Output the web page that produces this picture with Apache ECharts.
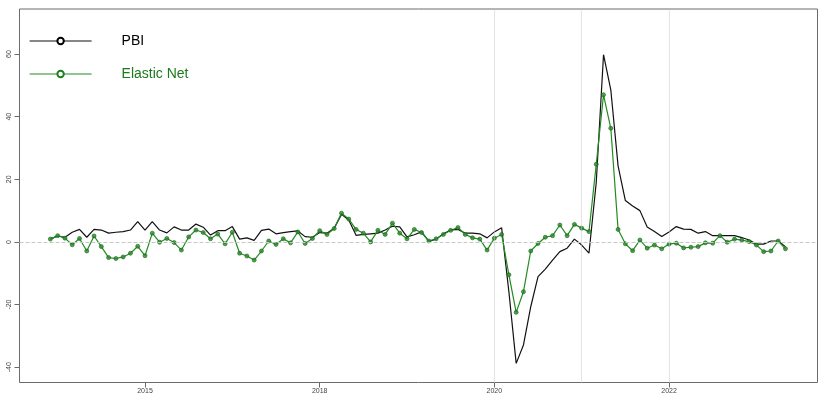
<!DOCTYPE html>
<html>
<head>
<meta charset="utf-8">
<script src="https://cdn.jsdelivr.net/npm/echarts@6/dist/echarts.min.js"></script>
<style>
  html, body { margin: 0; padding: 0; background: #fff; }
  #chart { width: 830px; height: 402px; }
</style>
</head>
<body>
<div id="chart"></div>
<script>
// monthly series, first month Dec 2014
var startYear = 2014;
var startMonth = 12;

var pbi = [
  0.9, 1.9, 1.5, 3.1, 4.0, 1.5, 4.0, 3.8, 2.8, 3.1,
  3.3, 3.8, 6.5, 3.8, 6.5, 3.8, 2.9, 4.8, 3.8, 3.8,
  5.7, 4.7, 2.2, 3.6, 3.6, 4.9, 0.9, 1.3, 0.5, 3.7,
  4.1, 2.6, 3.0, 3.3, 3.5, 1.7, 1.5, 3.0, 2.8, 4.4,
  8.8, 7.0, 2.1, 2.4, 2.6, 2.8, 3.8, 5.0, 4.8, 1.6,
  2.3, 3.2, 0.2, 0.9, 2.6, 3.8, 4.0, 2.8, 2.8, 2.6,
  1.3, 3.2, 4.5, -16, -38.8, -32.9, -20.7, -11.1, -8.7, -5.8,
  -3.1, -2.0, 0.9, -1.0, -3.6, 19, 59.8, 48.6, 24.3, 13.2,
  11.5, 10.0, 4.8, 3.3, 1.7, 3.2, 4.9, 4.1, 4.0, 2.8,
  3.3, 2.0, 2.0, 2.0, 2.0, 1.4, 0.6, -0.7, -0.7, 0.3,
  0.3, -1.5
];

var elasticNet = [
  0.9, 2.0, 1.2, -0.9, 1.1, -2.9, 1.9, -1.5, -5.0, -5.3,
  -4.8, -3.6, -1.4, -4.4, 2.8, -0.1, 1.1, -0.2, -2.6, 1.6,
  3.8, 3.0, 1.0, 2.5, -0.6, 3.1, -3.6, -4.5, -5.8, -2.9,
  0.3, -0.8, 1.0, -0.3, 3.2, -0.5, 1.1, 3.6, 2.4, 4.3,
  9.2, 7.3, 4.0, 2.8, 0.0, 3.7, 2.4, 6.0, 2.8, 1.0,
  4.0, 3.0, 0.3, 1.0, 2.4, 3.7, 4.6, 2.4, 1.3, 0.9,
  -2.6, 1.2, 2.4, -10.5, -22.5, -15.9, -2.9, -0.5, 1.5, 2.0,
  5.4, 2.0, 5.6, 4.4, 3.3, 24.8, 47.0, 36.3, 4.0, -0.6,
  -2.8, 0.6, -2.0, -1.0, -2.2, -0.7, -0.4, -1.9, -1.7, -1.5,
  -0.3, -0.4, 2.0, -0.1, 0.9, 0.6, 0.1, -1.0, -3.1, -2.9,
  0.3, -2.2
];

var xTickValues = [2016, 2018, 2020, 2022];
var xTickLabels = ['2015', '2018', '2020', '2022'];
var yTickValues = [-40, -20, 0, 20, 40, 60];
var vLines = [2020, 2021, 2022];

// time in fractional years, like an R ts
function timeOf(i) {
  return startYear + (startMonth - 1 + i) / 12;
}
var pbiData = pbi.map(function (v, i) { return [timeOf(i), v]; });
var enetData = elasticNet.map(function (v, i) { return [timeOf(i), v]; });

var chart = echarts.init(document.getElementById('chart'), null, { renderer: 'canvas' });

var option = {
  animation: false,
  backgroundColor: '#fff',
  grid: {
    left: 19.5, right: 12.5, top: 9, bottom: 19.5,
    show: true, borderColor: '#6b6b6b', borderWidth: 1
  },
  legend: {
    orient: 'vertical',
    left: 24, top: 29,
    itemWidth: 62, itemHeight: 8, itemGap: 19,
    lineStyle: { width: 1.2 },
    itemStyle: { borderWidth: 1 },
    textStyle: { fontSize: 14, color: '#000', fontFamily: 'Liberation Sans', padding: [0, 0, 0, 25] },
    data: [
      { name: 'PBI' },
      { name: 'Elastic Net', textStyle: { color: '#1b7a1b' } }
    ]
  },
  xAxis: {
    type: 'value',
    min: 2014.563, max: 2023.70,
    axisLine: { show: false, onZero: false },
    splitLine: { show: false },
    axisTick: { show: true, customValues: xTickValues, length: 5, lineStyle: { color: '#6b6b6b' } },
    axisLabel: {
      customValues: xTickValues,
      fontSize: 7, color: '#444', margin: 5, fontFamily: 'Liberation Sans',
      formatter: function (v) {
        var k = xTickValues.indexOf(v);
        return k >= 0 ? xTickLabels[k] : '';
      }
    }
  },
  yAxis: {
    type: 'value',
    min: -44.9, max: 74.4,
    axisLine: { show: false, onZero: false },
    splitLine: { show: false },
    axisTick: { show: true, customValues: yTickValues, length: 5, lineStyle: { color: '#6b6b6b' } },
    axisLabel: {
      customValues: yTickValues,
      rotate: 90, fontSize: 7, color: '#444', margin: 7, fontFamily: 'Liberation Sans'
    }
  },
  series: [
    {
      name: 'PBI',
      type: 'line',
      data: pbiData,
      symbol: 'emptyCircle',
      showSymbol: false,
      color: '#000',
      lineStyle: { color: '#111', width: 1.2 },
      markLine: {
        silent: true,
        symbol: 'none',
        label: { show: false },
        lineStyle: { color: '#c8c8c8', type: 'dotted', width: 1 },
        data: vLines.map(function (x) { return { xAxis: x }; }).concat([
          { yAxis: 0, lineStyle: { color: '#c8c8c8', type: 'dashed', width: 1 } }
        ])
      }
    },
    {
      name: 'Elastic Net',
      type: 'line',
      data: enetData,
      symbol: 'emptyCircle',
      showSymbol: false,
      color: '#1f7f1f',
      itemStyle: { color: '#1f7f1f' },
      lineStyle: { color: '#228b22', width: 1.2 }
    },
    {
      // point markers of the Elastic Net line
      name: 'Elastic Net points',
      type: 'scatter',
      data: enetData,
      symbol: 'circle',
      symbolSize: 4,
      itemStyle: { color: '#2e8b2e', borderColor: '#176417', borderWidth: 0.8 },
      z: 3
    }
  ]
};

chart.setOption(option);
</script>
</body>
</html>
